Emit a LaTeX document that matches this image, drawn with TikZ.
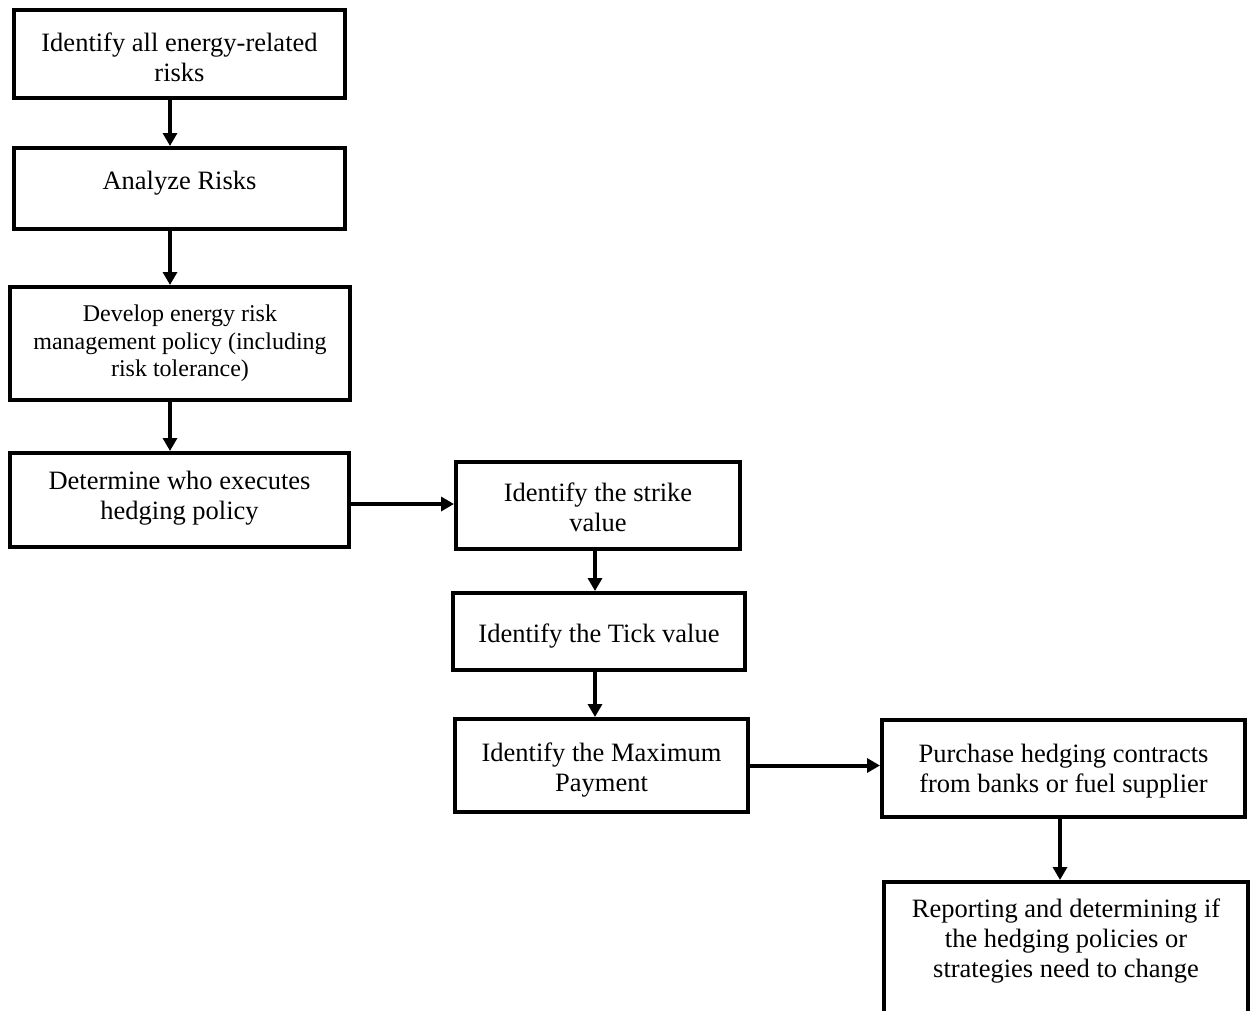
\documentclass[tikz,border=0pt]{standalone}
\usepackage{fontspec}
\setmainfont{Liberation Serif}
\usetikzlibrary{arrows.meta}
\newcommand{\boxtext}[2]{\raisebox{#1}[0pt][0pt]{\begin{tabular}{@{}c@{}}#2\end{tabular}}}
\tikzset{
  stepbox/.style={draw=black, line width=4pt, rectangle, inner sep=0pt, fill=white,
    font=\fontsize{26.5}{30}\selectfont},
  smallbox/.style={stepbox, font=\fontsize{24}{27.5}\selectfont},
  arr/.style={line width=4pt, -{Triangle[length=13pt,width=14pt]}}
}
\begin{document}
\begin{tikzpicture}[x=1pt,y=-1pt]
\useasboundingbox (0,0) rectangle (1250,1010);
\clip (0,0) rectangle (1250,1010);
\node[stepbox, minimum width=331pt, minimum height=88pt] (B1) at (179.5,54)
  {\boxtext{-12.5pt}{Identify all energy-related\\ risks}};
\node[stepbox, minimum width=331pt, minimum height=81pt] (B2) at (179.5,188.5)
  {\boxtext{-1pt}{Analyze Risks}};
\node[smallbox, minimum width=340pt, minimum height=113pt] (B3) at (180,343.5)
  {\boxtext{-6.5pt}{Develop energy risk\\ management policy (including\\ risk tolerance)}};
\node[stepbox, minimum width=339pt, minimum height=94pt] (B4) at (179.5,500)
  {\boxtext{-4.5pt}{Determine who executes\\ hedging policy}};
\node[stepbox, minimum width=284pt, minimum height=87pt] (B5) at (598,505.5)
  {\boxtext{-11.5pt}{Identify the strike\\ value}};
\node[stepbox, minimum width=292pt, minimum height=77pt] (B6) at (599,631.5)
  {\boxtext{-11pt}{Identify the Tick value}};
\node[stepbox, minimum width=293pt, minimum height=93pt] (B7) at (601.5,765.5)
  {\boxtext{-11pt}{Identify the Maximum\\ Payment}};
\node[stepbox, minimum width=363pt, minimum height=97pt] (B8) at (1063.5,768.5)
  {\boxtext{-9.5pt}{Purchase hedging contracts\\ from banks or fuel supplier}};
\node[stepbox, minimum width=364pt, minimum height=164pt] (B9) at (1066,964)
  {\boxtext{16.5pt}{Reporting and determining if\\ the hedging policies or\\ strategies need to change}};
\draw[arr] ([xshift=-9.5pt]B1.south) -- ([xshift=-9.5pt]B1.south |- B2.north);
\draw[arr] ([xshift=-9.5pt]B2.south) -- ([xshift=-9.5pt]B2.south |- B3.north);
\draw[arr] ([xshift=-10pt]B3.south) -- ([xshift=-10pt]B3.south |- B4.north);
\draw[arr] ([yshift=-4pt]B4.east) -- ([yshift=-4pt]B4.east -| B5.west);
\draw[arr] ([xshift=-3pt]B5.south) -- ([xshift=-3pt]B5.south |- B6.north);
\draw[arr] ([xshift=-4pt]B6.south) -- ([xshift=-4pt]B6.south |- B7.north);
\draw[arr] (B7.east) -- (B7.east -| B8.west);
\draw[arr] ([xshift=-3.5pt]B8.south) -- ([xshift=-3.5pt]B8.south |- B9.north);
\end{tikzpicture}
\end{document}
